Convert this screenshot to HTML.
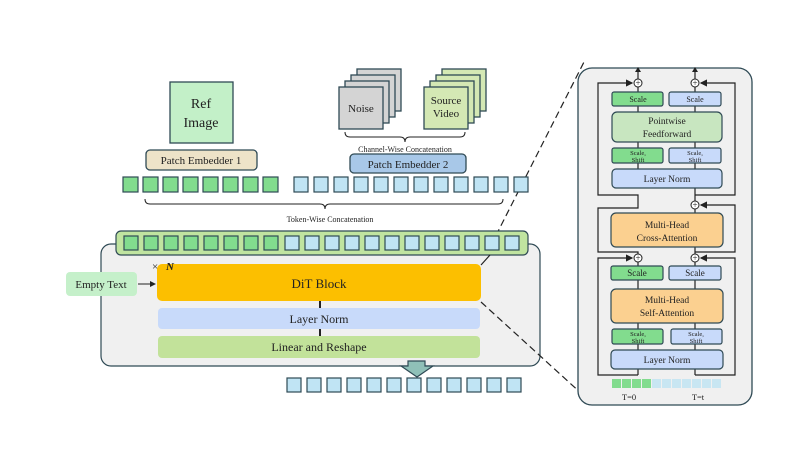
<!DOCTYPE html><html><head><style>body{margin:0;background:#fff}svg{display:block}text{font-family:"Liberation Serif",serif;fill:#222}</style></head><body>
<svg width="797" height="449" viewBox="0 0 797 449" xmlns="http://www.w3.org/2000/svg">
<defs><marker id="ah" markerWidth="6" markerHeight="6" refX="5" refY="3" orient="auto"><path d="M0,0 L6,3 L0,6z" fill="#222"/></marker></defs>
<g stroke="#222" stroke-dasharray="7,4" stroke-width="1.2"><line x1="481" y1="265" x2="585" y2="60"/></g>
<g stroke="#2f4a55" stroke-width="1.3">
<rect x="170" y="82" width="63" height="61" fill="#c3f0c8"/>
<rect x="146" y="150" width="111" height="20" rx="4" fill="#ede3c8"/>
<rect x="357" y="69" width="44" height="42" fill="#d4d4d4"/><rect x="351" y="75" width="44" height="42" fill="#d4d4d4"/><rect x="345" y="81" width="44" height="42" fill="#d4d4d4"/><rect x="339" y="87" width="44" height="42" fill="#d4d4d4"/>
<rect x="442" y="69" width="44" height="42" fill="#d4e8b4"/><rect x="436" y="75" width="44" height="42" fill="#d4e8b4"/><rect x="430" y="81" width="44" height="42" fill="#d4e8b4"/><rect x="424" y="87" width="44" height="42" fill="#d4e8b4"/>
<rect x="350" y="154" width="116" height="19" rx="4" fill="#a8c8e8"/>
</g>
<g fill="none" stroke="#222" stroke-width="1">
<path d="M345,132 q0,5 5,5 h50 q5,0 5,5 q0,-5 5,-5 h50 q5,0 5,-5"/>
<path d="M145,199 q0,5 5,5 h170 q5,0 5,5 q0,-5 5,-5 h168 q5,0 5,-5"/>
</g>
<text x="201" y="108" font-size="14" text-anchor="middle">Ref</text><text x="201" y="127" font-size="14" text-anchor="middle">Image</text>
<text x="201" y="164" font-size="11" text-anchor="middle">Patch Embedder 1</text>
<text x="361" y="112" font-size="11" text-anchor="middle">Noise</text>
<text x="446" y="104" font-size="11" text-anchor="middle">Source</text><text x="446" y="117" font-size="11" text-anchor="middle">Video</text>
<text x="405" y="152" font-size="8" text-anchor="middle">Channel-Wise Concatenation</text>
<text x="408" y="168" font-size="11" text-anchor="middle">Patch Embedder 2</text>
<text x="330" y="222" font-size="8" text-anchor="middle">Token-Wise Concatenation</text>
<g stroke="#2f4a55" stroke-width="1.2">
<g fill="#82dc8e"><rect x="123" y="177" width="15" height="15"/><rect x="143" y="177" width="15" height="15"/><rect x="163" y="177" width="15" height="15"/><rect x="183" y="177" width="15" height="15"/><rect x="203" y="177" width="15" height="15"/><rect x="223" y="177" width="15" height="15"/><rect x="243" y="177" width="15" height="15"/><rect x="263" y="177" width="15" height="15"/></g>
<g fill="#c0e4f4"><rect x="294" y="177" width="14" height="15"/><rect x="314" y="177" width="14" height="15"/><rect x="334" y="177" width="14" height="15"/><rect x="354" y="177" width="14" height="15"/><rect x="374" y="177" width="14" height="15"/><rect x="394" y="177" width="14" height="15"/><rect x="414" y="177" width="14" height="15"/><rect x="434" y="177" width="14" height="15"/><rect x="454" y="177" width="14" height="15"/><rect x="474" y="177" width="14" height="15"/><rect x="494" y="177" width="14" height="15"/><rect x="514" y="177" width="14" height="15"/></g>
<rect x="101" y="244" width="439" height="122" rx="10" fill="#f0f0f0"/>
<rect x="116" y="231" width="412" height="24" rx="5" fill="#c0e4a0"/>
<g fill="#82dc8e"><rect x="124" y="236" width="14" height="14"/><rect x="144" y="236" width="14" height="14"/><rect x="164" y="236" width="14" height="14"/><rect x="184" y="236" width="14" height="14"/><rect x="204" y="236" width="14" height="14"/><rect x="224" y="236" width="14" height="14"/><rect x="244" y="236" width="14" height="14"/><rect x="264" y="236" width="14" height="14"/></g>
<g fill="#c0e4f4"><rect x="285" y="236" width="14" height="14"/><rect x="305" y="236" width="14" height="14"/><rect x="325" y="236" width="14" height="14"/><rect x="345" y="236" width="14" height="14"/><rect x="365" y="236" width="14" height="14"/><rect x="385" y="236" width="14" height="14"/><rect x="405" y="236" width="14" height="14"/><rect x="425" y="236" width="14" height="14"/><rect x="445" y="236" width="14" height="14"/><rect x="465" y="236" width="14" height="14"/><rect x="485" y="236" width="14" height="14"/><rect x="505" y="236" width="14" height="14"/></g>
<g fill="#c0e4f4"><rect x="287" y="378" width="14" height="14"/><rect x="307" y="378" width="14" height="14"/><rect x="327" y="378" width="14" height="14"/><rect x="347" y="378" width="14" height="14"/><rect x="367" y="378" width="14" height="14"/><rect x="387" y="378" width="14" height="14"/><rect x="407" y="378" width="14" height="14"/><rect x="427" y="378" width="14" height="14"/><rect x="447" y="378" width="14" height="14"/><rect x="467" y="378" width="14" height="14"/><rect x="487" y="378" width="14" height="14"/><rect x="507" y="378" width="14" height="14"/></g>
<path d="M408,361 h17 v5 h8 l-16,11 l-16,-11 h7z" fill="#8fc0b8"/>
</g>
<line x1="481" y1="265" x2="490" y2="255" stroke="#222" stroke-width="1.2"/>
<rect x="157" y="264" width="324" height="37" rx="5" fill="#fcbf00"/>
<rect x="158" y="308" width="322" height="21" rx="4" fill="#c8dafa"/>
<rect x="158" y="336" width="322" height="22" rx="4" fill="#c2e29a"/>
<line x1="481" y1="302" x2="583" y2="395" stroke="#222" stroke-dasharray="7,4" stroke-width="1.2"/>
<rect x="66" y="272" width="71" height="24" rx="4" fill="#c5f0ca"/>
<line x1="320" y1="301" x2="320" y2="308" stroke="#222" stroke-width="2"/><line x1="320" y1="329" x2="320" y2="336" stroke="#222" stroke-width="2"/>
<line x1="138" y1="284" x2="155" y2="284" stroke="#222" marker-end="url(#ah)"/>
<text x="101" y="288" font-size="11" text-anchor="middle">Empty Text</text>
<text x="152" y="270" font-size="11">×</text><text x="166" y="270" font-size="11" font-weight="bold" font-style="italic">N</text>
<text x="319" y="288" font-size="13" text-anchor="middle">DiT Block</text>
<text x="319" y="323" font-size="12" text-anchor="middle">Layer Norm</text>
<text x="319" y="351" font-size="12" text-anchor="middle">Linear and Reshape</text>
<rect x="578" y="68" width="174" height="337" rx="14" fill="#f0f0f0" stroke="#2f4a55" stroke-width="1.3"/>
<g fill="none" stroke="#222" stroke-width="1.2">
<path d="M638,375 V369 M695,375 V369 M638,350 V344 M695,350 V344 M638,329 V323 M695,329 V323 M638,289 V280 M695,289 V280 M638,266 V262 M695,266 V262 M695,254 V247 M695,213 V209 M695,201 V188 M638,169 V163 M695,169 V163 M638,148 V142 M695,148 V142 M638,112 V106 M695,112 V106 M638,92 V87 M695,92 V87"/>
<path d="M638,375 H598 V258 H632" marker-end="url(#ah)"/><path d="M695,375 H735 V258 H701" marker-end="url(#ah)"/>
<path d="M638,255 V252 H598 V208 H638 V195 H598 V83 H632" marker-end="url(#ah)"/>
<path d="M695,195 H735 V83 H701" marker-end="url(#ah)"/>
<path d="M695,252 H735 V205 H701" marker-end="url(#ah)"/>
<path d="M638,79 V70 M695,79 V70"/>
</g>
<path d="M635,72 l3,-5 l3,5z M692,72 l3,-5 l3,5z" fill="#222"/>
<g fill="#fff" stroke="#222" stroke-width="1"><circle cx="638" cy="83" r="4"/><circle cx="695" cy="83" r="4"/><circle cx="695" cy="205" r="4"/><circle cx="638" cy="258" r="4"/><circle cx="695" cy="258" r="4"/></g>
<g font-size="9" fill="#222" text-anchor="middle"><text x="638" y="86">+</text><text x="695" y="86">+</text><text x="695" y="208">+</text><text x="638" y="261">+</text><text x="695" y="261">+</text></g>
<g stroke="#2f4a55" stroke-width="1.2">
<rect x="612" y="92" width="51" height="14" rx="2" fill="#82dc8e"/><rect x="669" y="92" width="52" height="14" rx="2" fill="#c8dafa"/>
<rect x="612" y="112" width="110" height="30" rx="5" fill="#c8e6c0"/>
<rect x="612" y="148" width="51" height="15" rx="2" fill="#82dc8e"/><rect x="669" y="148" width="52" height="15" rx="2" fill="#c8dafa"/>
<rect x="612" y="169" width="110" height="19" rx="4" fill="#c8dafa"/>
<rect x="611" y="213" width="112" height="34" rx="5" fill="#fbd090"/>
<rect x="611" y="266" width="52" height="14" rx="2" fill="#82dc8e"/><rect x="669" y="266" width="52" height="14" rx="2" fill="#c8dafa"/>
<rect x="611" y="289" width="112" height="34" rx="5" fill="#fbd090"/>
<rect x="612" y="329" width="51" height="15" rx="2" fill="#82dc8e"/><rect x="671" y="329" width="51" height="15" rx="2" fill="#c8dafa"/>
<rect x="611" y="350" width="112" height="19" rx="4" fill="#c8dafa"/>
</g>
<g fill="#82dc8e"><rect x="612" y="379" width="9" height="9"/><rect x="622" y="379" width="9" height="9"/><rect x="632" y="379" width="9" height="9"/><rect x="642" y="379" width="9" height="9"/></g>
<g fill="#c8e6f2"><rect x="652" y="379" width="9" height="9"/><rect x="662" y="379" width="9" height="9"/><rect x="672" y="379" width="9" height="9"/><rect x="682" y="379" width="9" height="9"/><rect x="692" y="379" width="9" height="9"/><rect x="702" y="379" width="9" height="9"/><rect x="712" y="379" width="9" height="9"/></g>
<g text-anchor="middle">
<text x="638" y="102" font-size="8">Scale</text><text x="695" y="102" font-size="8">Scale</text>
<text x="667" y="124" font-size="9.5">Pointwise</text><text x="667" y="137" font-size="9.5">Feedforward</text>
<text x="638" y="155" font-size="6.5" fill="#555">Scale,</text><text x="638" y="162" font-size="6.5" fill="#555">Shift</text>
<text x="695" y="155" font-size="6.5" fill="#555">Scale,</text><text x="695" y="162" font-size="6.5" fill="#555">Shift</text>
<text x="667" y="182" font-size="9.5">Layer Norm</text>
<text x="667" y="228" font-size="9.5">Multi-Head</text><text x="667" y="241" font-size="9.5">Cross-Attention</text>
<text x="637" y="276" font-size="9">Scale</text><text x="695" y="276" font-size="9">Scale</text>
<text x="667" y="303" font-size="9.5">Multi-Head</text><text x="667" y="316" font-size="9.5">Self-Attention</text>
<text x="638" y="336" font-size="6.5" fill="#555">Scale,</text><text x="638" y="343" font-size="6.5" fill="#555">Shift</text>
<text x="696" y="336" font-size="6.5" fill="#555">Scale,</text><text x="696" y="343" font-size="6.5" fill="#555">Shift</text>
<text x="667" y="363" font-size="9.5">Layer Norm</text>
<text x="629" y="400" font-size="8.5">T=0</text><text x="698" y="400" font-size="8.5">T=t</text>
</g>
</svg></body></html>
